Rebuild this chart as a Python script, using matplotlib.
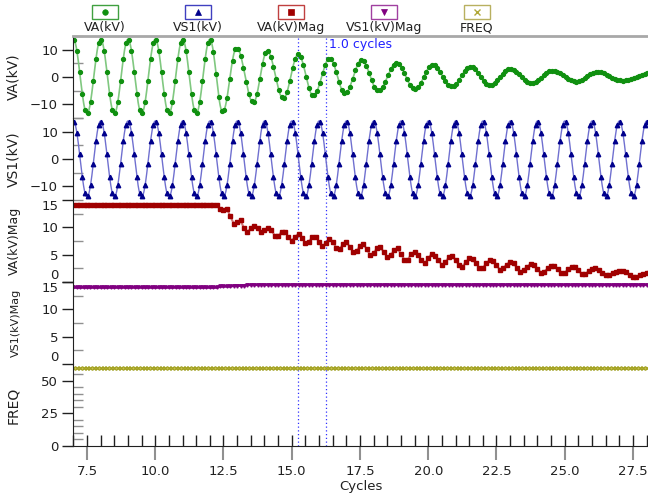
import numpy as np
import matplotlib.pyplot as plt
from matplotlib.lines import Line2D
from matplotlib.patches import Rectangle
from matplotlib.ticker import MultipleLocator, FormatStrFormatter

# --- datos ---
t_inicio = 7.0
paso = 0.125       # muestras de magnitud (8 por ciclo)
paso_onda = 0.1    # marcas de las ondas
x_lim = (7.0, 28.05)
cursores = [15.24, 16.27]

# VA(kV): extremos de la onda (ciclo, kV)
va_ext_t = [7.0, 7.5, 8.0, 8.5, 9.0, 9.5, 10.0, 10.5, 11.0, 11.5, 12.0, 12.47, 12.98,
            13.59, 14.1, 14.69, 15.24, 15.79, 16.39, 16.95, 17.56, 18.17, 18.84,
            19.51, 20.16, 20.86, 21.55, 22.26, 23.0, 23.79, 24.55, 25.42, 26.17,
            27.09, 28.3]
va_ext_v = [13.8, -13.4, 13.8, -13.4, 13.8, -13.4, 13.8, -13.4, 13.8, -13.4, 13.8, -12.8, 10.7,
            -9.4, 9.5, -7.9, 8.3, -6.9, 6.8, -6.0, 6.2, -5.0, 5.2,
            -4.5, 4.5, -3.5, 3.8, -3.0, 3.0, -2.3, 2.3, -1.7, 1.9,
            -1.3, 1.8]

# VS1(kV): fuente de 60 Hz, amplitud constante
vs1_pico = 13.9

# VA(kV)Mag: constante hasta la falla y luego muestra por muestra
va_mag_previo = 14.0
va_mag_n_previo = 43
va_mag_post = [13.4, 13.2, 13.4, 12.0, 10.7, 11.0, 11.3, 9.8, 9.1, 9.8, 10.2, 9.8, 9.1, 9.5,
               9.8, 9.5, 8.5, 8.4, 9.2, 9.1, 8.3, 7.5, 8.3, 8.8, 8.1, 7.1, 7.4, 8.2, 8.2,
               7.4, 6.5, 7.1, 7.9, 7.4, 6.3, 6.0, 6.9, 7.4, 6.4, 5.5, 5.7, 6.6, 6.9, 6.0,
               4.9, 5.3, 6.2, 6.4, 5.4, 4.6, 4.9, 5.8, 6.2, 5.1, 4.1, 4.1, 5.1, 5.5,
               4.9, 4.0, 3.4, 4.3, 5.2, 4.8, 4.0, 3.1, 3.6, 4.5, 4.8, 4.0, 3.1, 2.8, 3.6,
               4.3, 4.2, 3.4, 2.6, 2.6, 3.4, 4.0, 3.8, 3.1, 2.2, 2.5, 3.2, 3.7, 3.4, 2.6,
               1.9, 2.2, 2.8, 3.3, 3.1, 2.4, 1.7, 1.9, 2.5, 2.9, 2.9, 2.3, 1.6, 1.6, 2.4,
               2.7, 2.7, 2.2, 1.4, 1.4, 2.0, 2.4, 2.5, 2.2, 1.6, 1.2, 1.2, 1.6, 1.9, 2.0,
               2.0, 1.8, 1.3, 1.0, 1.0, 1.2, 1.5, 1.7, 1.9]

# VS1(kV)Mag: escalones (valor, cantidad de muestras)
vs1_mag_niveles = [14.0, 14.2, 14.35, 14.5]
vs1_mag_cuentas = [43, 4, 4, 119]

freq_hz = 60.0

nombres = ['VA(kV)', 'VS1(kV)', 'VA(kV)Mag', 'VS1(kV)Mag', 'FREQ']
col_linea = ['#80c880', '#7070d0', '#d07878', '#a040a0', '#c8c050']
col_marca = ['#109010', '#00008c', '#a00000', '#800080', '#b0a838']
col_caja = ['#40a040', '#4040c0', '#c04040', '#a040a0', '#b8b060']
marcas = ['o', '^', 's', 'v', 'x']


def onda_desde_extremos(t, ext_t, ext_v):
    # medio coseno entre cada par de extremos consecutivos
    y = np.zeros_like(t)
    for i in range(len(ext_t) - 1):
        t0, t1 = ext_t[i], ext_t[i + 1]
        m = (t >= t0) & (t <= t1)
        f = (t[m] - t0) / (t1 - t0)
        y[m] = (ext_v[i] + ext_v[i + 1]) / 2 + (ext_v[i] - ext_v[i + 1]) / 2 * np.cos(np.pi * f)
    return y


va_mag = np.array([va_mag_previo] * va_mag_n_previo + va_mag_post)
vs1_mag = np.repeat(vs1_mag_niveles, vs1_mag_cuentas)
n = len(va_mag)
t_m = t_inicio + paso * np.arange(n)
t_fino = np.linspace(t_inicio, t_m[-1], 1400)
t_onda = np.arange(t_inicio + 0.03, t_m[-1], paso_onda)

vs1_ext_t = list(np.arange(7.0, 28.6, 0.5))
vs1_ext_v = [vs1_pico if k % 2 == 0 else -vs1_pico for k in range(len(vs1_ext_t))]

plt.rcParams['font.family'] = 'DejaVu Sans'
fig = plt.figure(figsize=(6.48, 4.97), dpi=100)

W, H = 648.0, 497.0
izq, der, arriba, abajo = 73.35, 648.0, 36.0, 446.0
alto = (abajo - arriba) / 5
ejes = []
for i in range(5):
    ejes.append(fig.add_axes([izq / W, 1 - (arriba + (i + 1) * alto) / H, (der - izq) / W, alto / H]))

config = [
    ((-15, 15), 10, 5, 'VA(kV)', 10),
    ((-15, 15), 10, 5, 'VS1(kV)', 10),
    ((0, 15), 5, 2.5, 'VA(kV)Mag', 9),
    ((0, 15), 5, 2.5, 'VS1(kV)Mag', 8),
    ((0, 63), 25, 5, 'FREQ', 10),
]

for i, ax in enumerate(ejes):
    lim, mayor, menor, etiqueta, tam = config[i]
    ax.set_xlim(*x_lim)
    ax.set_ylim(*lim)
    ax.yaxis.set_major_locator(MultipleLocator(mayor))
    ax.yaxis.set_minor_locator(MultipleLocator(menor))
    ax.tick_params(axis='y', which='major', direction='out', length=8, width=1,
                   color='#202020', labelsize=9.5, labelcolor='#202020', pad=3)
    ax.tick_params(axis='y', which='minor', direction='in', length=7, width=1, color='#909090')
    for s in ['top', 'right', 'bottom']:
        ax.spines[s].set_visible(False)
    ax.spines['left'].set_color('#202020')
    ax.set_ylabel(etiqueta, fontsize=tam, color='#202020')
    ax.yaxis.set_label_coords(-0.092, 0.5)
    ax.patch.set_alpha(0)
    for c in cursores:
        ax.axvline(c, color='#3030ff', lw=0.9, ls=(0, (1, 2)))
    if i < 4:
        ax.tick_params(axis='x', which='both', bottom=False, labelbottom=False)

ejes[0].spines['top'].set_visible(True)
ejes[0].spines['top'].set_color('#a8a8a8')
ejes[0].spines['top'].set_linewidth(2)

# curvas
ax = ejes[0]
ax.plot(t_fino, onda_desde_extremos(t_fino, va_ext_t, va_ext_v), color=col_linea[0], lw=1.2)
ax.plot(t_onda, onda_desde_extremos(t_onda, va_ext_t, va_ext_v), ls='none', marker='o', ms=2.8, color=col_marca[0])

ax = ejes[1]
ax.plot(t_fino, onda_desde_extremos(t_fino, vs1_ext_t, vs1_ext_v), color=col_linea[1], lw=1.0)
ax.plot(t_onda, onda_desde_extremos(t_onda, vs1_ext_t, vs1_ext_v), ls='none', marker='^', ms=3.2, color=col_marca[1])

ejes[2].plot(t_m, va_mag, color=col_linea[2], lw=1.5, marker='s', ms=2.8,
             mfc=col_marca[2], mec=col_marca[2])
ejes[3].plot(t_m, vs1_mag, color=col_marca[3], lw=2, marker='v', ms=2.4,
             mfc=col_marca[3], mec=col_marca[3])
ejes[4].plot(t_m, [freq_hz] * n, color=col_linea[4], lw=2.2, marker='x', ms=2.5,
             mec='#a0a020', mew=0.8)

ejes[0].text(16.35, 14.3, '1.0 cycles', color='#2020ff', fontsize=9, va='top', ha='left')

# etiquetas de borde desplazadas hacia adentro
for ax in ejes[2:4]:
    ax.set_yticks([0, 5, 10, 15])
    etq = ax.get_yticklabels()
    etq[0].set_va('bottom')
    etq[-1].set_va('top')

# eje x inferior
ax = ejes[4]
ax.xaxis.set_major_locator(MultipleLocator(2.5))
ax.xaxis.set_minor_locator(MultipleLocator(0.5))
ax.xaxis.set_major_formatter(FormatStrFormatter('%.1f'))
ax.xaxis.remove_overlapping_locs = False
ax.spines['bottom'].set_visible(True)
ax.spines['bottom'].set_color('#202020')
ax.tick_params(axis='x', which='major', direction='out', length=10, width=1.5,
               color='#909090', labelsize=9.5, labelcolor='#202020', pad=4)
ax.tick_params(axis='x', which='minor', direction='in', length=8, width=1, color='#202020')
ax.set_xlabel('Cycles', fontsize=9.5, color='#202020', labelpad=1)

# leyenda manual arriba
centros = [105, 198, 291, 384, 477]
for k in range(5):
    cx = centros[k]
    fig.add_artist(Rectangle(((cx - 13) / W, 1 - 18.5 / H), 26 / W, 14 / H,
                             transform=fig.transFigure, fill=False, ec=col_caja[k], lw=1))
    fig.add_artist(Line2D([cx / W], [1 - 11.5 / H], transform=fig.transFigure,
                          marker=marcas[k], ms=4 if k != 4 else 4.5, color=col_marca[k],
                          mew=1 if k == 4 else 0.5, ls='none'))
    fig.text(cx / W, 1 - 28 / H, nombres[k], ha='center', va='center', fontsize=9, color='#202020')

fig.savefig('out.png', dpi=100)
